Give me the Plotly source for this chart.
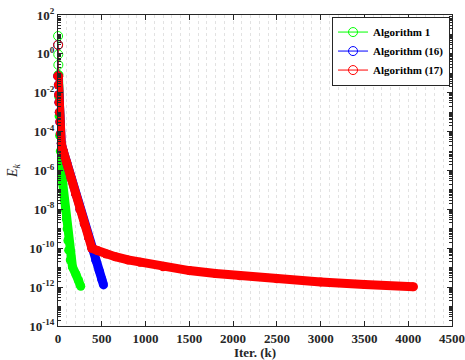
import plotly.graph_objects as go

# ---- data ----
alg1_k = [1, 2, 3, 4, 5, 8, 12, 18, 26, 40, 55, 72, 85, 95, 104, 113, 122, 140, 165, 205, 235, 260]
alg1_E = [8.3, 2.9, 0.93, 0.27, 0.083, 6.3e-3, 6.3e-4, 6.3e-5, 1.0e-5, 1.3e-6, 2.0e-7, 3.2e-8,
          1.0e-8, 3.2e-9, 1.0e-9, 2.5e-10, 8.0e-11, 2.5e-11, 1.1e-11, 4.5e-12, 2.2e-12, 1.1e-12]

alg16_k = [1, 2, 4, 7, 10, 15, 20, 28, 37, 60, 100, 150, 200, 250, 300, 350, 387, 430, 470, 500, 520]
alg16_E = [2.88, 0.0708, 0.0251, 7.9e-3, 3.2e-3, 1e-3, 3.2e-4, 7.9e-5, 2.5e-5, 1e-5, 2.5e-6, 4e-7,
           6.3e-8, 1e-8, 1.8e-9, 3.5e-10, 1e-10, 2.5e-11, 7.1e-12, 2.5e-12, 1.3e-12]

alg17_k = [1, 2, 4, 7, 10, 15, 20, 28, 37, 60, 100, 150, 200, 250, 300, 350, 387, 450, 550, 653,
           800, 937, 1200, 1500, 1800, 2077, 2500, 3000, 3500, 4060]
alg17_E = [2.88, 0.0708, 0.0251, 7.9e-3, 3.2e-3, 1e-3, 3.2e-4, 7.9e-5, 2.5e-5, 1e-5, 2.5e-6, 4e-7,
           6.3e-8, 1e-8, 1.8e-9, 3.5e-10, 1e-10, 7.6e-11, 5e-11, 3.7e-11, 2.5e-11, 1.9e-11, 1.12e-11,
           7.1e-12, 5e-12, 3.8e-12, 2.7e-12, 1.86e-12, 1.38e-12, 1.05e-12]

names = ["Algorithm 1", "Algorithm (16)", "Algorithm (17)"]
colors = ["#00FF00", "#0000FF", "#FF0000"]
series = [(alg1_k, alg1_E, 5), (alg16_k, alg16_E, 2), (alg17_k, alg17_E, 2)]

x_ticks = [0, 500, 1000, 1500, 2000, 2500, 3000, 3500, 4000, 4500]
y_exps = [2, 0, -2, -4, -6, -8, -10, -12, -14]
y_minor = [m * 10.0 ** e for e in range(-14, 2) for m in range(1, 10)] + [100.0]

FONT = "Liberation Serif"
fig = go.Figure()

for (k, E, nstart), name, c in zip(series, names, colors):
    fig.add_trace(go.Scatter(x=k[:nstart], y=E[:nstart], mode="lines+markers",
                             line=dict(color=c, width=1), cliponaxis=False,
                             marker=dict(symbol="circle-open", size=9, color=c, line=dict(width=1)),
                             showlegend=False, hoverinfo="skip"))
    fig.add_trace(go.Scatter(x=k[nstart - 1:], y=E[nstart - 1:], mode="lines+markers",
                             line=dict(color=c, width=9), cliponaxis=False,
                             marker=dict(symbol="circle", size=9, color=c),
                             showlegend=False, hoverinfo="skip"))

for name, c in zip(names, colors):
    fig.add_trace(go.Scatter(x=[None], y=[None], mode="lines+markers", name=name,
                             line=dict(color=c, width=1),
                             marker=dict(symbol="circle-open", size=9, color=c, line=dict(width=1))))

axis_common = dict(showline=True, linecolor="#262626", linewidth=1, mirror="allticks",
                   ticks="inside", ticklen=5, tickcolor="#262626", zeroline=False,
                   automargin=False,
                   tickfont=dict(family=FONT, size=13, color="#262626", weight="bold"))

fig.update_xaxes(range=[0, 4500], tickvals=x_ticks, ticktext=[str(v) for v in x_ticks],
                 showgrid=True, gridcolor="#e2e2e2", griddash="dot", gridwidth=1,
                 minor=dict(dtick=100, showgrid=True, gridcolor="#e2e2e2", griddash="dot", ticks=""),
                 title=dict(text="<b>Iter. (k)</b>", font=dict(family=FONT, size=13, color="#262626"),
                            standoff=2),
                 **axis_common)

fig.update_yaxes(type="log", range=[-14, 2],
                 tickvals=[10.0 ** e for e in y_exps],
                 ticktext=["10<sup>%d</sup>" % e for e in y_exps],
                 showgrid=False,
                 minor=dict(tickvals=y_minor, ticks="inside", ticklen=3, tickcolor="#262626", showgrid=False),
                 title=dict(text="<i>E</i><sub><i>k</i></sub>", font=dict(family=FONT, size=14, color="#262626"),
                            standoff=8),
                 **axis_common)

fig.update_layout(width=465, height=360, margin=dict(l=58, r=13, t=15, b=34),
                  paper_bgcolor="white", plot_bgcolor="white",
                  legend=dict(x=0.995, y=0.995, xanchor="right", yanchor="top",
                              bgcolor="white", bordercolor="#262626", borderwidth=1,
                              font=dict(family=FONT, size=11, color="black", weight="bold"),
                              tracegroupgap=0, itemwidth=30))

fig.write_html("out.html")
